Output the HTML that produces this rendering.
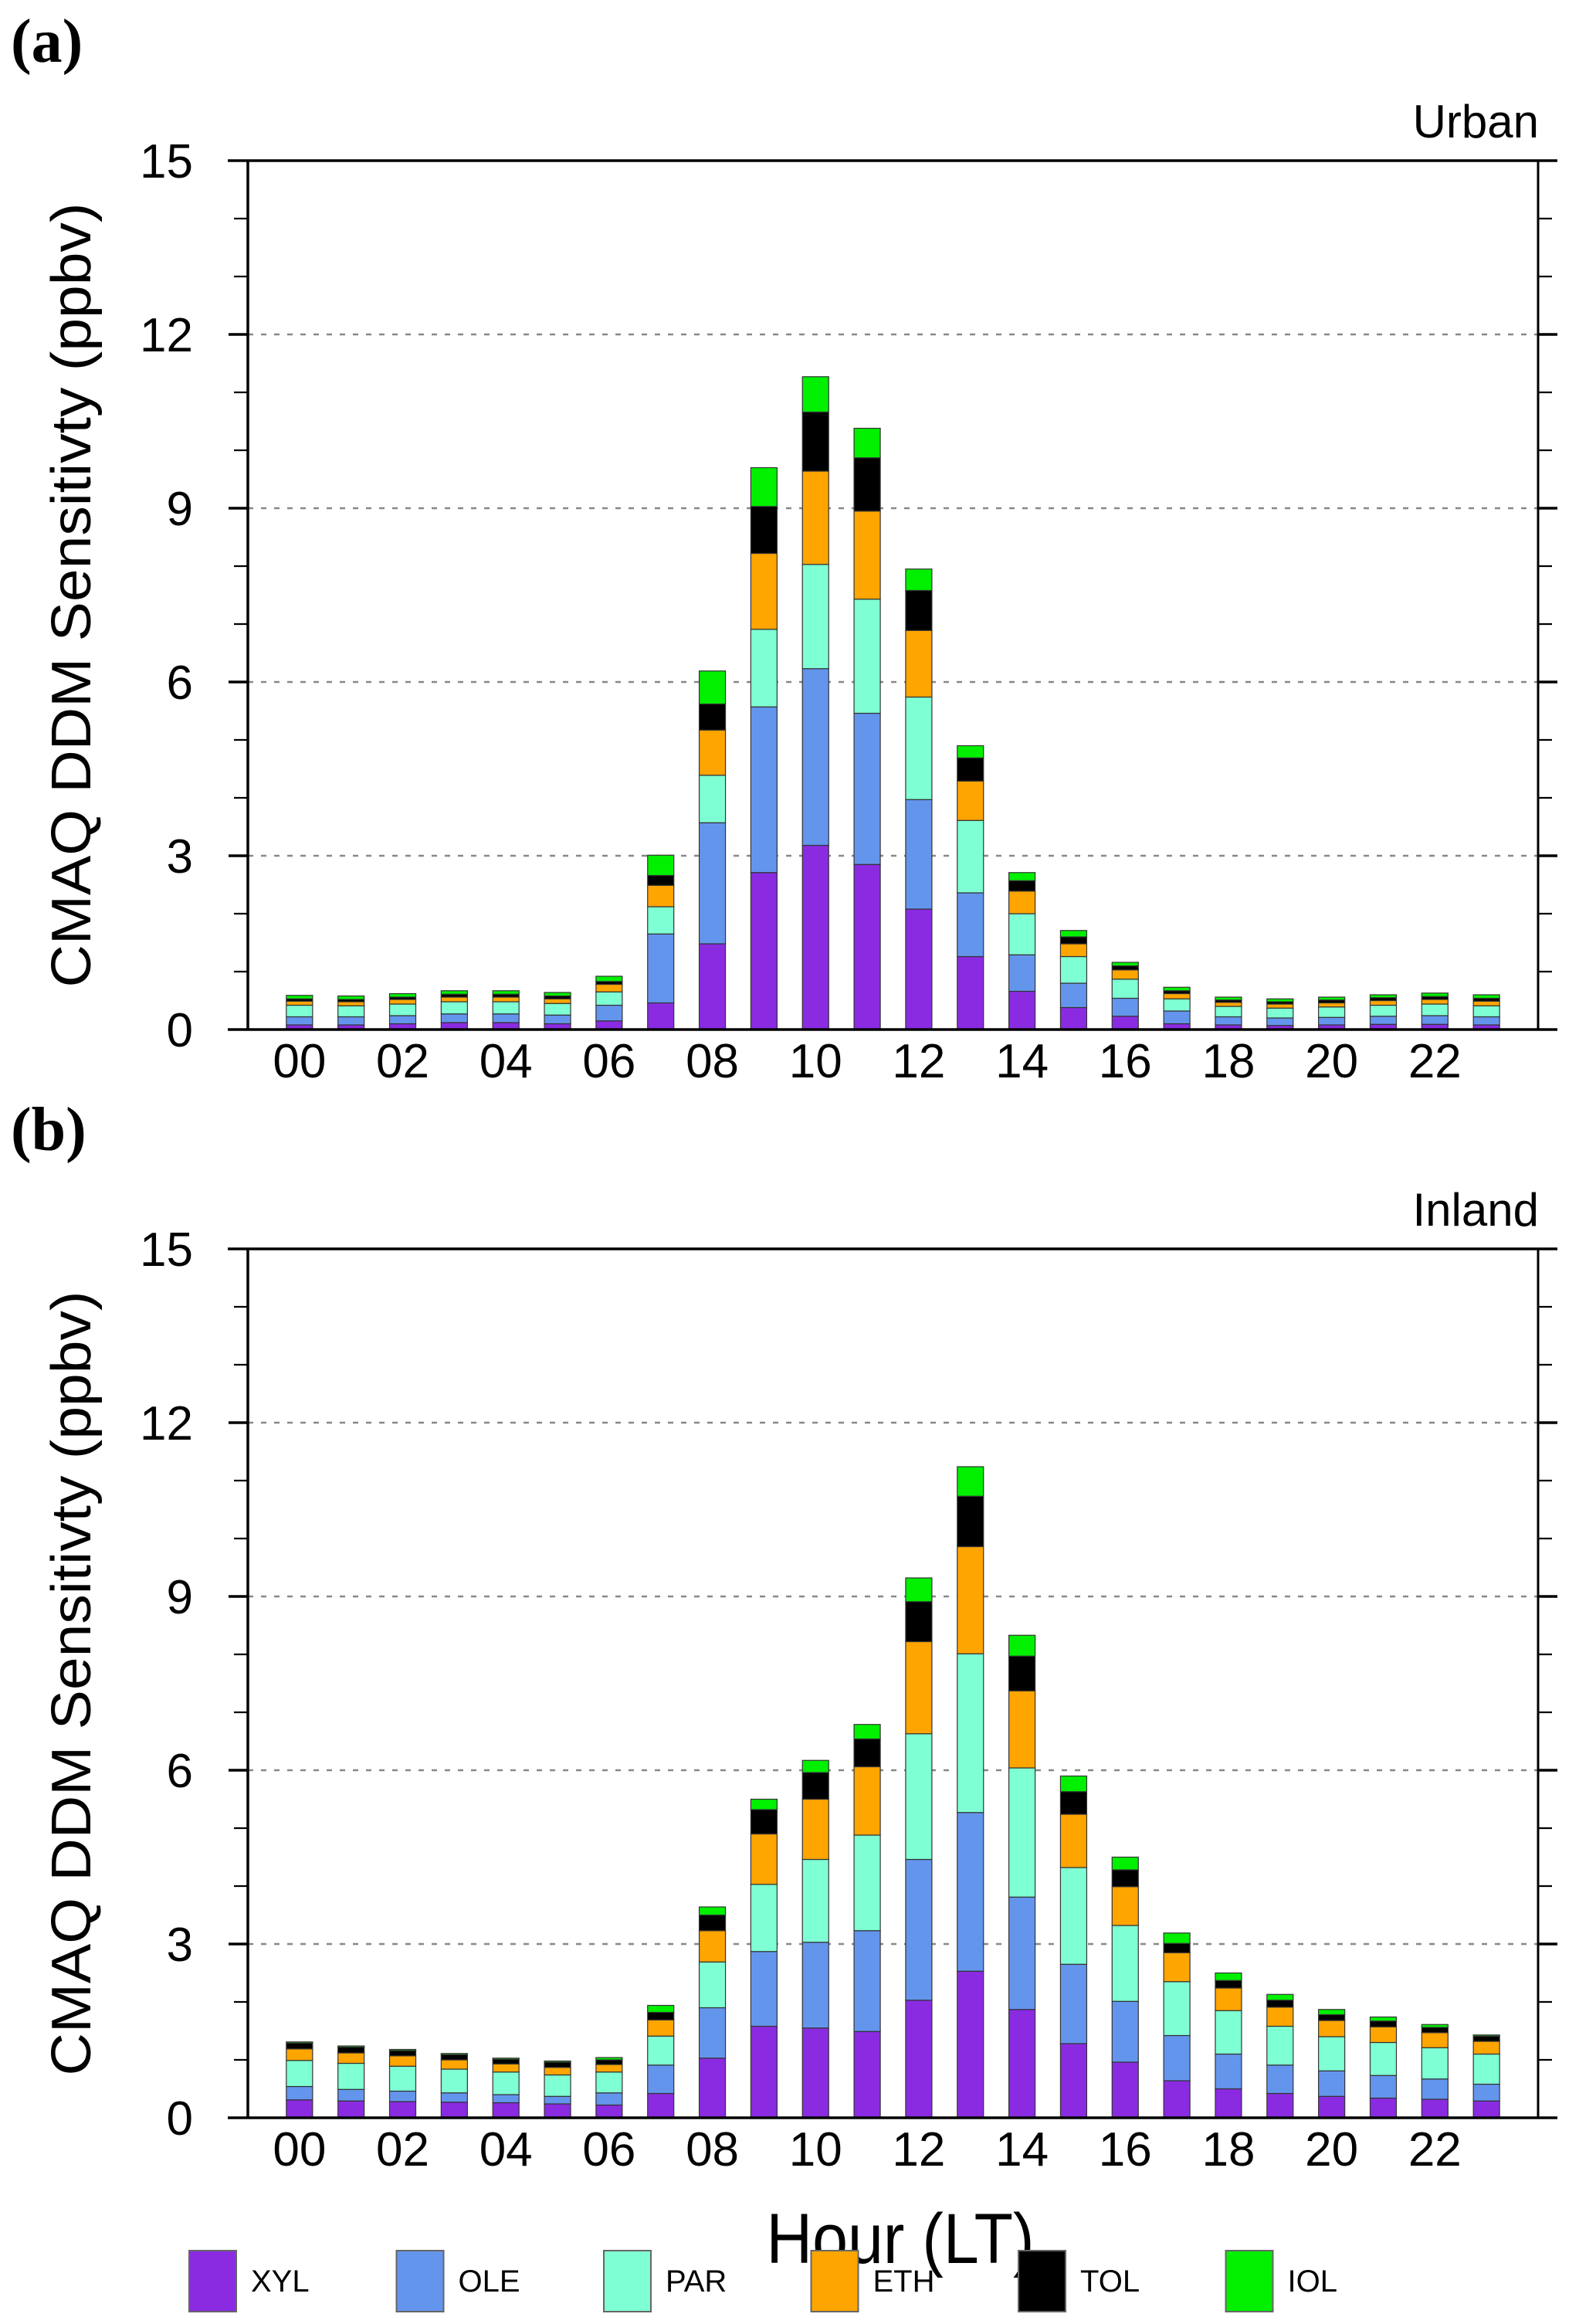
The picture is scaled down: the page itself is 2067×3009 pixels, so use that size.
<!DOCTYPE html>
<html><head><meta charset="utf-8">
<style>html,body{margin:0;padding:0;background:#fff}svg{display:block}</style>
</head><body>
<svg id="chart" width="2067" height="3009" viewBox="0 0 2067 3009" xmlns="http://www.w3.org/2000/svg" font-family="Liberation Sans, Arial, sans-serif"></svg>
<script>
const hours = ["00","01","02","03","04","05","06","07","08","09","10","11","12","13","14","15","16","17","18","19","20","21","22","23"];
const species = ["XYL","OLE","PAR","ETH","TOL","IOL"];
const speciesColors = ["#8a2be2","#6495ed","#7fffd4","#ffa500","#000000","#00f000"];
const yTicks = [0,3,6,9,12,15];
// Urban: cumulative stack tops per species
const urbanXYL = [0.08,0.08,0.10,0.12,0.12,0.10,0.15,0.46,1.48,2.71,3.18,2.85,2.08,1.26,0.66,0.38,0.23,0.10,0.08,0.07,0.08,0.09,0.09,0.08];
const urbanOLE = [0.22,0.22,0.24,0.27,0.27,0.25,0.42,1.65,3.57,5.57,6.23,5.46,3.97,2.36,1.29,0.80,0.54,0.32,0.22,0.20,0.21,0.23,0.24,0.22];
const urbanPAR = [0.42,0.41,0.44,0.48,0.48,0.45,0.65,2.12,4.39,6.91,8.03,7.43,5.74,3.61,2.00,1.26,0.87,0.53,0.40,0.37,0.39,0.42,0.44,0.41];
const urbanETH = [0.49,0.48,0.52,0.56,0.56,0.53,0.78,2.49,5.17,8.22,9.64,8.95,6.89,4.29,2.39,1.48,1.03,0.62,0.47,0.44,0.46,0.50,0.52,0.49];
const urbanTOL = [0.53,0.52,0.56,0.61,0.61,0.58,0.83,2.66,5.62,9.03,10.66,9.87,7.58,4.69,2.57,1.60,1.10,0.67,0.51,0.48,0.51,0.55,0.57,0.54];
const urbanIOL = [0.59,0.58,0.62,0.67,0.67,0.64,0.92,3.01,6.19,9.70,11.27,10.38,7.95,4.90,2.71,1.71,1.16,0.73,0.56,0.53,0.56,0.60,0.63,0.60];
// Inland: cumulative stack tops per species
const inlandXYL = [0.31,0.29,0.28,0.27,0.26,0.24,0.22,0.42,1.03,1.58,1.55,1.49,2.03,2.53,1.87,1.28,0.96,0.64,0.50,0.42,0.37,0.34,0.32,0.29];
const inlandOLE = [0.54,0.49,0.46,0.43,0.40,0.37,0.43,0.91,1.90,2.87,3.03,3.23,4.46,5.27,3.81,2.65,2.01,1.42,1.10,0.91,0.81,0.73,0.67,0.58];
const inlandPAR = [0.99,0.94,0.89,0.84,0.79,0.74,0.79,1.41,2.69,4.03,4.46,4.88,6.63,8.01,6.04,4.32,3.32,2.35,1.85,1.58,1.40,1.30,1.21,1.10];
const inlandETH = [1.19,1.12,1.07,1.00,0.93,0.87,0.92,1.69,3.23,4.90,5.50,6.06,8.22,9.86,7.37,5.24,3.99,2.85,2.24,1.91,1.68,1.57,1.47,1.32];
const inlandTOL = [1.29,1.22,1.16,1.09,1.01,0.96,1.00,1.82,3.50,5.32,5.96,6.54,8.91,10.73,7.97,5.63,4.28,3.01,2.37,2.03,1.78,1.67,1.56,1.41];
const inlandIOL = [1.31,1.24,1.18,1.11,1.03,0.98,1.04,1.94,3.64,5.50,6.17,6.79,9.32,11.24,8.33,5.90,4.50,3.19,2.50,2.13,1.87,1.74,1.61,1.43];

const NS = "http://www.w3.org/2000/svg";
const svg = document.getElementById("chart");
function mk(tag, attrs, parent){const e=document.createElementNS(NS,tag);for(const k in attrs)e.setAttribute(k,attrs[k]);(parent||svg).appendChild(e);return e;}

function drawPanel(top, title, label, stacks, key){
  const x0=321, x1=1992, bottom=top+1125;
  const g = mk("g",{});
  
  
  const yS = v => bottom - (v/15)*(bottom-top);
  const slot = (x1-x0)/25;
  const xS = i => x0 + slot*(i+1);
  // panel label
  const pl = mk("text",{x:14,y:top-128,"font-family":"Liberation Serif, serif","font-weight":"bold","font-size":80},g);
  pl.textContent=label;
  
  
  const tt = mk("text",{x:1993,y:top-30,"text-anchor":"end","font-size":60},g);
  tt.textContent=title;
  
  
  // grid
  yTicks.forEach(v=>{ if(v>0&&v<15){ const l=mk("line",{x1:x0,x2:x1,y1:yS(v),y2:yS(v),stroke:"#888","stroke-width":2.5,"stroke-dasharray":"7,10"},g);
    
    }});
  // bars
  for(let i=0;i<hours.length;i++){
    let prev=0;
    for(let s=0;s<species.length;s++){
      const v=stacks[s][i]; const lo=Math.min(prev,v), hi=Math.max(prev,v);
      const r=mk("rect",{x:xS(i)-17,y:yS(hi),width:34,height:Math.max(0,yS(lo)-yS(hi)),fill:speciesColors[s],stroke:"#333","stroke-width":1.2},g);
      
      
      prev=Math.max(prev,v);
    }
  }
  // frame
  mk("line",{x1:295,x2:2017,y1:top,y2:top,stroke:"#000","stroke-width":3.5},g);
  mk("line",{x1:295,x2:2017,y1:bottom,y2:bottom,stroke:"#000","stroke-width":3.5},g);
  mk("line",{x1:x0,x2:x0,y1:top,y2:bottom,stroke:"#000","stroke-width":3.5},g);
  mk("line",{x1:x1,x2:x1,y1:top,y2:bottom,stroke:"#000","stroke-width":3},g);
  for(let v=1;v<15;v++){
    const major = v%3===0; const len = major?25:18;
    mk("line",{x1:x0-len,x2:x0,y1:yS(v),y2:yS(v),stroke:"#000","stroke-width":major?3.5:2.2},g);
    mk("line",{x1:x1,x2:x1+len,y1:yS(v),y2:yS(v),stroke:"#000","stroke-width":major?3.5:2.2},g);
  }
  yTicks.forEach(v=>{const t=mk("text",{x:250,y:yS(v)+22,"text-anchor":"end","font-size":62},g);t.textContent=String(v);
    
    });
  hours.forEach((h,i)=>{ if(i%2===0){const t=mk("text",{x:xS(i),y:bottom+62,"text-anchor":"middle","font-size":62},g);t.textContent=h;
    
    }});
  const yt=mk("text",{x:0,y:0,"text-anchor":"middle","font-size":72,textLength:1016,lengthAdjust:"spacingAndGlyphs",transform:`translate(117,${(top+bottom)/2}) rotate(-90)`},g);
  yt.textContent="CMAQ DDM Sensitivty (ppbv)";
  
  
}
drawPanel(208,"Urban","(a)",[urbanXYL,urbanOLE,urbanPAR,urbanETH,urbanTOL,urbanIOL],"urban");
drawPanel(1617,"Inland","(b)",[inlandXYL,inlandOLE,inlandPAR,inlandETH,inlandTOL,inlandIOL],"inland");

const xt=mk("text",{x:1166,y:2930,"text-anchor":"middle","font-size":92,textLength:347,lengthAdjust:"spacingAndGlyphs"});
xt.textContent="Hour (LT)";


species.forEach((s,k)=>{
  const bx = 245 + k*268.5;
  const r=mk("rect",{x:bx,y:2914,width:61,height:79,fill:speciesColors[k],stroke:"#666","stroke-width":2});
  
  
  const t=mk("text",{x:bx+80,y:2967,"font-size":40});
  t.textContent=s;
  
  
});
</script>
</body></html>
